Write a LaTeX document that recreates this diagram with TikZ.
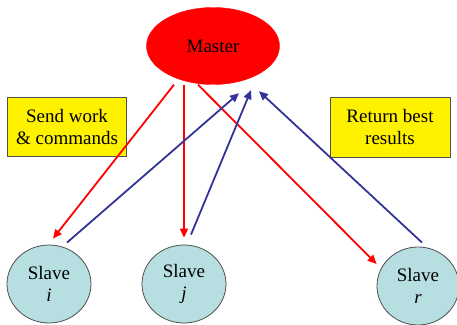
\documentclass[tikz,border=0pt]{standalone}
\usepackage{fontspec}
\setmainfont{Liberation Serif}
\usepackage{tikz}
\usetikzlibrary{shapes.geometric,arrows.meta,positioning}
\definecolor{slavefill}{RGB}{183,222,224}
\definecolor{edgegray}{RGB}{80,80,80}
\definecolor{backblue}{RGB}{51,51,153}
\tikzset
{
    masternode/.style = {ellipse, fill=red, draw=red, inner sep=0pt, minimum width=133pt, minimum height=77pt, align=center},
    slavenode/.style  = {ellipse, fill=slavefill, draw=edgegray, line width=0.8pt, inner sep=0pt, minimum width=84pt, minimum height=78pt, align=center},
    notebox/.style    = {rectangle, fill=yellow, draw=edgegray, line width=0.8pt, minimum width=119pt, minimum height=59pt, align=center},
    sendarrow/.style  = {line width=1.8pt, red, -{Triangle[width=8pt,length=9pt]}},
    backarrow/.style  = {line width=1.8pt, backblue, -{Triangle[width=8pt,length=9pt]}}
}

\begin{document}
\begin{tikzpicture}[x=1pt, y=1pt, font=\fontsize{19}{22}\selectfont]
\useasboundingbox (0,0) rectangle (457,324);
\node(m) [masternode] at (213, 278) {Master};
\node(si) [slavenode] at (49, 40) {Slave\\\textit{i}};
\node(sj) [slavenode] at (184, 40) {Slave\\\textit{j}};
\node(sr) [slavenode, minimum width=82pt] at (418, 38) {Slave\\\textit{r}};
\node(send) [notebox] at (67, 197) {Send work\\\& commands};
\node(ret) [notebox, minimum width=120pt, minimum height=60pt] at (390, 197) {Return best\\results};
% work goes down
\draw[sendarrow] ([xshift=-39]m.south) -- ([shift=({4,6})]si.north);
\draw[sendarrow] ([xshift=-29]m.south) -- ([yshift=7]sj.north);
\draw[sendarrow] ([xshift=-15]m.south) -- ([yshift=22]sr.west);
% results come back
\draw[backarrow] ([shift=({18,2})]si.north) -- ([shift=({26,-8.5})]m.south);
\draw[backarrow] ([shift=({7,10})]sj.north) -- ([shift=({38,-5.5})]m.south);
\draw[backarrow] ([shift=({4,4})]sr.north) -- ([shift=({46,-6.5})]m.south);
\end{tikzpicture}
\end{document}
